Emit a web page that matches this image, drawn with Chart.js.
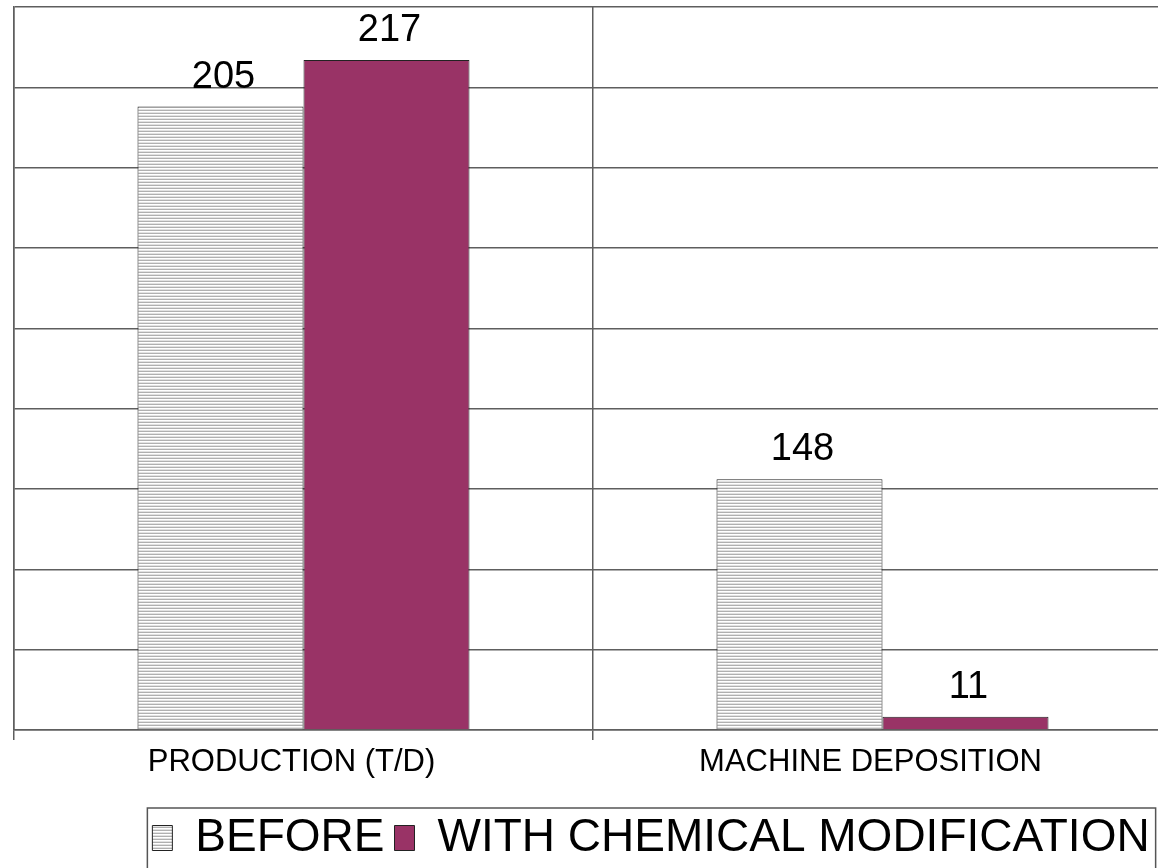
<!DOCTYPE html>
<html>
<head>
<meta charset="utf-8">
<script src="https://cdn.jsdelivr.net/npm/chart.js@4.4.1/dist/chart.umd.min.js"></script>
<style>
  html, body { margin: 0; padding: 0; background: #fff; overflow: hidden; }
  #wrap { width: 1180px; height: 871px; }
</style>
</head>
<body>
<div id="wrap"><canvas id="chart" width="1180" height="871"></canvas></div>
<script>
const categories = ["PRODUCTION (T/D)", "MACHINE DEPOSITION"];
const seriesNames = ["BEFORE", "WITH CHEMICAL MODIFICATION"];
// bar heights as read against the gridlines (9 divisions of 25)
const beforeHeights = [194, 78];
const withHeights = [208.5, 4.1];
// numbers printed above the bars
const beforeLabels = ["205", "148"];
const withLabels = ["217", "11"];
const gridMax = 225;
const gridStep = 25;

const FONT = '"Liberation Sans", Arial, sans-serif';
const gridColor = "#5e5e5e";

function stripePattern() {
  const c = document.createElement("canvas");
  c.width = 4;
  c.height = 3;
  const g = c.getContext("2d");
  ["#ffffff", "#e2e2e2", "#b0b0b0"].forEach((col, i) => {
    g.fillStyle = col;
    g.fillRect(0, i, 4, 1);
  });
  return g.createPattern(c, "repeat");
}

const valueLabels = {
  id: "valueLabels",
  afterDatasetsDraw(chart) {
    const texts = [beforeLabels, withLabels];
    const ctx = chart.ctx;
    ctx.save();
    ctx.font = "38px " + FONT;
    ctx.fillStyle = "#000";
    ctx.textAlign = "center";
    ctx.textBaseline = "alphabetic";
    chart.data.datasets.forEach((ds, i) => {
      chart.getDatasetMeta(i).data.forEach((bar, j) => {
        ctx.fillText(texts[i][j], bar.x + 3, bar.y - 19);
      });
    });
    ctx.restore();
  }
};

// legend sits a bit right of centre and has a frame round it
const legendFrame = {
  id: "legendFrame",
  afterLayout(chart) {
    chart.legend.left += 58;
    chart.legend.right += 58;
  },
  afterDraw(chart) {
    const boxes = chart.legend.legendHitBoxes;
    if (!boxes || !boxes.length) return;
    const first = boxes[0];
    const last = boxes[boxes.length - 1];
    const x0 = first.left - 5;
    const x1 = last.left + last.width + 6;
    const ctx = chart.ctx;
    ctx.save();
    ctx.strokeStyle = "#555";
    ctx.lineWidth = 1.5;
    ctx.strokeRect(x0, first.top - 7, x1 - x0, 90);
    ctx.restore();
  }
};

new Chart(document.getElementById("chart"), {
  type: "bar",
  data: {
    labels: categories,
    datasets: [
      {
        label: seriesNames[0],
        data: beforeHeights,
        backgroundColor: stripePattern(),
        borderColor: "#222",
        borderWidth: 1,
        categoryPercentage: 0.5734,
        barPercentage: 1,
      },
      {
        label: seriesNames[1],
        data: withHeights,
        backgroundColor: "#993366",
        borderColor: "#222",
        borderWidth: 1,
        categoryPercentage: 0.5734,
        barPercentage: 1,
      },
    ],
  },
  options: {
    responsive: false,
    animation: false,
    layout: { padding: { left: 14, right: 8, top: 7, bottom: 0 } },
    plugins: {
      tooltip: { enabled: false },
      legend: {
        position: "bottom",
        labels: {
          color: "#000",
          font: { family: FONT, size: 46 },
          boxWidth: 20,
          boxHeight: 25,
          padding: 10,
        },
      },
    },
    scales: {
      x: {
        grid: { display: true, color: gridColor, lineWidth: 1.5, tickLength: 10, offset: true },
        border: { display: true, color: gridColor, width: 1.5 },
        ticks: { color: "#000", font: { family: FONT, size: 31 }, padding: 4, labelOffset: -12, maxRotation: 0 },
        afterFit(scale) { scale.height = 75; },
      },
      y: {
        min: 0,
        max: gridMax,
        ticks: { display: false, stepSize: gridStep },
        grid: { color: gridColor, lineWidth: 1.5, drawTicks: false },
        border: { display: true, color: gridColor, width: 1.5 },
        afterFit(scale) { scale.width = 0; },
      },
    },
  },
  plugins: [valueLabels, legendFrame],
});
</script>
</body>
</html>
